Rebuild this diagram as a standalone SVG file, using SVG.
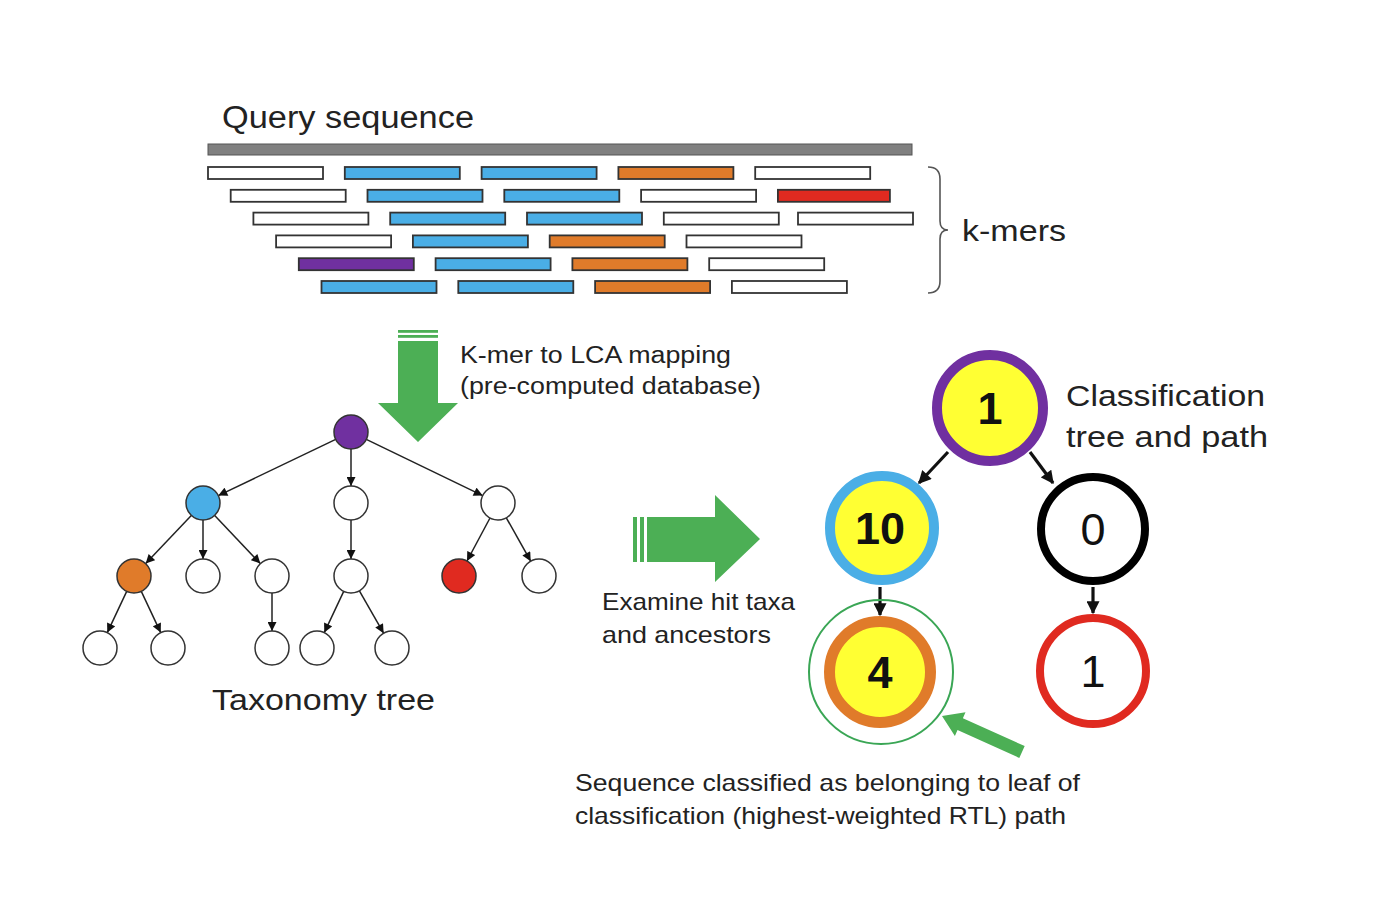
<svg xmlns="http://www.w3.org/2000/svg" width="1374" height="908" viewBox="0 0 1374 908">
<style>
  text{font-family:"Liberation Sans",Arial,sans-serif;fill:#222}
  .k{stroke:#333;stroke-width:1.8}
  .w{fill:#fff}.b{fill:#4aaee6}.o{fill:#e07b2a}.r{fill:#e02a20}.p{fill:#7030a0}
  .tn{stroke:#333;stroke-width:1.5}
  .te{stroke:#222;stroke-width:1.5;fill:none;marker-end:url(#ah)}
  .ce{stroke:#111;stroke-width:3.2;fill:none;marker-end:url(#ah2)}
  .green{fill:#4caf55}
  .num{font-size:45px;text-anchor:middle;fill:#111}
</style>
<defs>
  <marker id="ah" markerUnits="userSpaceOnUse" viewBox="0 0 10 10" refX="10" refY="5" markerWidth="10" markerHeight="9" orient="auto"><path d="M0,0 L10,5 L0,10 z" fill="#111"/></marker>
  <marker id="ah2" markerUnits="userSpaceOnUse" viewBox="0 0 10 10" refX="9" refY="5" markerWidth="14" markerHeight="13" orient="auto"><path d="M0,0 L10,5 L0,10 z" fill="#111"/></marker>
</defs>
<rect width="1374" height="908" fill="#fff"/>

<g id="query">
  <text x="222" y="128" font-size="31" textLength="252" lengthAdjust="spacingAndGlyphs">Query sequence</text>
  <rect x="208" y="144" width="704" height="11" fill="#808080" stroke="#555" stroke-width="1"/>
</g>

<g id="kmers">
  <rect class="k w" x="208" y="167" width="115" height="12"/>
  <rect class="k b" x="344.8" y="167" width="115" height="12"/>
  <rect class="k b" x="481.6" y="167" width="115" height="12"/>
  <rect class="k o" x="618.4" y="167" width="115" height="12"/>
  <rect class="k w" x="755.2" y="167" width="115" height="12"/>

  <rect class="k w" x="230.7" y="189.8" width="115" height="12"/>
  <rect class="k b" x="367.5" y="189.8" width="115" height="12"/>
  <rect class="k b" x="504.3" y="189.8" width="115" height="12"/>
  <rect class="k w" x="641.1" y="189.8" width="115" height="12"/>
  <rect class="k r" x="777.9" y="189.8" width="112" height="12"/>

  <rect class="k w" x="253.4" y="212.6" width="115" height="12"/>
  <rect class="k b" x="390.2" y="212.6" width="115" height="12"/>
  <rect class="k b" x="527" y="212.6" width="115" height="12"/>
  <rect class="k w" x="663.8" y="212.6" width="115" height="12"/>
  <rect class="k w" x="798" y="212.6" width="115" height="12"/>

  <rect class="k w" x="276.1" y="235.4" width="115" height="12"/>
  <rect class="k b" x="412.9" y="235.4" width="115" height="12"/>
  <rect class="k o" x="549.7" y="235.4" width="115" height="12"/>
  <rect class="k w" x="686.5" y="235.4" width="115" height="12"/>

  <rect class="k p" x="298.8" y="258.2" width="115" height="12"/>
  <rect class="k b" x="435.6" y="258.2" width="115" height="12"/>
  <rect class="k o" x="572.4" y="258.2" width="115" height="12"/>
  <rect class="k w" x="709.2" y="258.2" width="115" height="12"/>

  <rect class="k b" x="321.5" y="281" width="115" height="12"/>
  <rect class="k b" x="458.3" y="281" width="115" height="12"/>
  <rect class="k o" x="595.1" y="281" width="115" height="12"/>
  <rect class="k w" x="731.9" y="281" width="115" height="12"/>

  <path d="M928,167 Q940,167 940,179 L940,221 Q940,230 948,230 Q940,230 940,239 L940,281 Q940,293 928,293" fill="none" stroke="#555" stroke-width="1.6"/>
  <text x="962" y="241" font-size="30" textLength="104" lengthAdjust="spacingAndGlyphs">k-mers</text>
</g>

<g id="mapping-arrow">
  <rect class="green" x="398" y="330" width="40" height="2.8"/>
  <rect class="green" x="398" y="335" width="40" height="2.8"/>
  <polygon class="green" points="398,341 438,341 438,403 458,403 418,442 378,403 398,403"/>
  <text x="460" y="363" font-size="23" textLength="271" lengthAdjust="spacingAndGlyphs">K-mer to LCA mapping</text>
  <text x="460" y="394" font-size="23" textLength="301" lengthAdjust="spacingAndGlyphs">(pre-computed database)</text>
</g>

<g id="taxonomy-edges">
  <line class="te" x1="335.7" y1="439.4" x2="218.3" y2="495.6"/>
  <line class="te" x1="351" y1="449" x2="351" y2="486"/>
  <line class="te" x1="366.3" y1="439.4" x2="482.7" y2="495.6"/>
  <line class="te" x1="191.3" y1="515.4" x2="145.7" y2="563.6"/>
  <line class="te" x1="203" y1="520" x2="203" y2="559"/>
  <line class="te" x1="214.7" y1="515.4" x2="260.3" y2="563.6"/>
  <line class="te" x1="351" y1="520" x2="351" y2="559"/>
  <line class="te" x1="490" y1="518" x2="467" y2="561"/>
  <line class="te" x1="506.3" y1="517.8" x2="530.7" y2="561.2"/>
  <line class="te" x1="126.7" y1="591.4" x2="107.3" y2="632.6"/>
  <line class="te" x1="141.3" y1="591.4" x2="160.7" y2="632.6"/>
  <line class="te" x1="272" y1="593" x2="272" y2="631"/>
  <line class="te" x1="343.7" y1="591.4" x2="324.3" y2="632.6"/>
  <line class="te" x1="359.4" y1="590.8" x2="383.6" y2="633.2"/>
</g>

<g id="taxonomy-nodes">
  <circle id="t-root" class="tn p" cx="351" cy="432" r="17"/>
  <circle id="t-blue" class="tn b" cx="203" cy="503" r="17"/>
  <circle id="t-mid" class="tn w" cx="351" cy="503" r="17"/>
  <circle id="t-right" class="tn w" cx="498" cy="503" r="17"/>
  <circle id="t-orange" class="tn o" cx="134" cy="576" r="17"/>
  <circle class="tn w" cx="203" cy="576" r="17"/>
  <circle class="tn w" cx="272" cy="576" r="17"/>
  <circle class="tn w" cx="351" cy="576" r="17"/>
  <circle id="t-red" class="tn r" cx="459" cy="576" r="17"/>
  <circle class="tn w" cx="539" cy="576" r="17"/>
  <circle class="tn w" cx="100" cy="648" r="17"/>
  <circle class="tn w" cx="168" cy="648" r="17"/>
  <circle class="tn w" cx="272" cy="648" r="17"/>
  <circle class="tn w" cx="317" cy="648" r="17"/>
  <circle class="tn w" cx="392" cy="648" r="17"/>
  <text x="212" y="710" font-size="30" textLength="223" lengthAdjust="spacingAndGlyphs">Taxonomy  tree</text>
</g>

<g id="examine-arrow">
  <rect class="green" x="633" y="517" width="4" height="45"/>
  <rect class="green" x="640" y="517" width="4" height="45"/>
  <polygon class="green" points="647,517 715,517 715,495 760,539 715,582 715,562 647,562"/>
  <text x="602" y="610" font-size="24" textLength="193" lengthAdjust="spacingAndGlyphs">Examine hit taxa</text>
  <text x="602" y="643" font-size="24" textLength="169" lengthAdjust="spacingAndGlyphs">and ancestors</text>
</g>

<g id="class-edges">
  <line class="ce" x1="948" y1="452" x2="919" y2="483"/>
  <line class="ce" x1="1030" y1="452" x2="1053" y2="483"/>
  <line class="ce" x1="880" y1="587" x2="880" y2="615"/>
  <line class="ce" x1="1093" y1="587" x2="1093" y2="613"/>
</g>

<g id="c-node-1">
  <circle cx="990" cy="408" r="53" fill="#ffff33" stroke="#7030a0" stroke-width="10"/>
  <text class="num" x="990" y="424" font-weight="bold">1</text>
</g>
<g id="c-node-10">
  <circle cx="882" cy="528" r="52" fill="#ffff33" stroke="#4aaee6" stroke-width="10"/>
  <text class="num" x="880" y="544" font-weight="bold">10</text>
</g>
<g id="c-node-0">
  <circle cx="1093" cy="529" r="52" fill="#fff" stroke="#000" stroke-width="8"/>
  <text class="num" x="1093" y="545">0</text>
</g>
<g id="c-node-4">
  <circle cx="881" cy="672" r="72" fill="none" stroke="#3aa655" stroke-width="2"/>
  <circle cx="880" cy="672" r="50.5" fill="#ffff33" stroke="#e07b2a" stroke-width="11"/>
  <text class="num" x="880" y="688" font-weight="bold">4</text>
</g>
<g id="c-node-1b">
  <circle cx="1093" cy="671" r="53" fill="#fff" stroke="#e02a20" stroke-width="8"/>
  <text class="num" x="1093" y="687">1</text>
</g>

<g id="class-label">
  <text x="1066" y="406" font-size="30" textLength="199" lengthAdjust="spacingAndGlyphs">Classification</text>
  <text x="1066" y="447" font-size="30" textLength="202" lengthAdjust="spacingAndGlyphs">tree and path</text>
</g>

<g id="result">
  <polygon class="green" points="942,716 965.5,712.3 962.9,718.3 1024.7,746.1 1019.3,757.9 957.5,730.1 954.9,736.1"/>
  <text x="575" y="791" font-size="24" textLength="505" lengthAdjust="spacingAndGlyphs">Sequence classified as belonging to leaf of</text>
  <text x="575" y="824" font-size="24" textLength="491" lengthAdjust="spacingAndGlyphs">classification (highest-weighted RTL) path</text>
</g>
</svg>
